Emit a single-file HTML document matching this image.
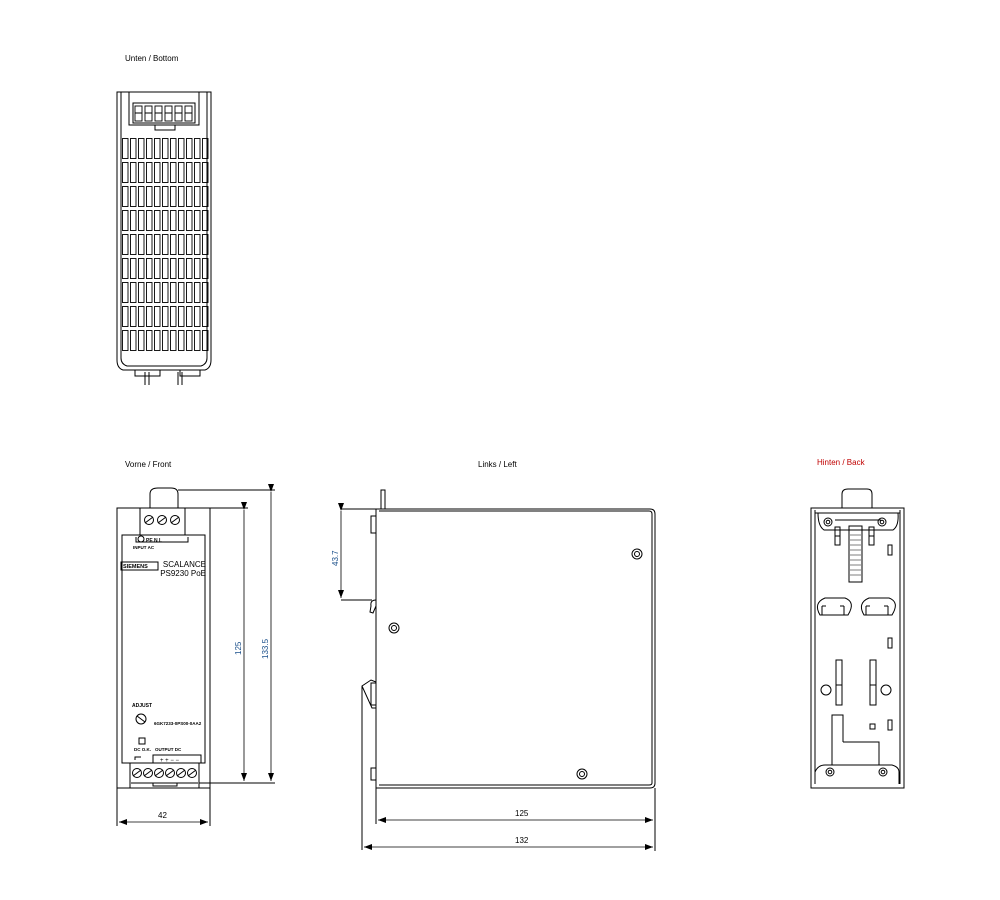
<!DOCTYPE html>
<html><head><meta charset="utf-8"><style>
html,body{margin:0;padding:0;background:#fff}
svg{display:block}
text{font-family:"Liberation Sans",sans-serif}
</style></head><body>
<svg width="1000" height="900" viewBox="0 0 1000 900" xmlns="http://www.w3.org/2000/svg">
<defs>
<pattern id="slots" x="122" y="138" width="8" height="24" patternUnits="userSpaceOnUse">
<rect x="0.5" y="0.5" width="5.5" height="20" fill="none" stroke="#000" stroke-width="0.9"/>
</pattern>
<marker id="ar" markerWidth="8" markerHeight="6" refX="8" refY="3" orient="auto" markerUnits="userSpaceOnUse"><path d="M0,0 L8,3 L0,6z" fill="#000"/></marker>
<marker id="al" markerWidth="8" markerHeight="6" refX="0" refY="3" orient="auto" markerUnits="userSpaceOnUse"><path d="M8,0 L0,3 L8,6z" fill="#000"/></marker>
</defs>
<g fill="none" stroke="#000" stroke-width="1">
<!-- TOP / bottom view -->
<text x="125" y="61" font-size="8" fill="#000" stroke="none">Unten / Bottom</text>
<path d="M117,92 H211 V360 Q211,368 205,370 H123 Q117,368 117,360 Z"/>
<path d="M121,92 V358 Q121,364 127,366 H201 Q207,364 207,358 V92"/>
<rect x="129" y="92" width="70" height="33"/>
<rect x="133" y="103" width="62" height="20"/>
<g stroke-width="0.9">
<rect x="135" y="106" width="7" height="15"/><rect x="145" y="106" width="7" height="15"/><rect x="155" y="106" width="7" height="15"/><rect x="165" y="106" width="7" height="15"/><rect x="175" y="106" width="7" height="15"/><rect x="185" y="106" width="7" height="15"/>
<path d="M135,113 H142 M145,113 H152 M155,113 H162 M165,113 H172 M175,113 H182 M185,113 H192"/>
</g>
<path d="M155,125 V130 H175 V125"/>
<rect x="122" y="138" width="88" height="216" fill="url(#slots)" stroke="none"/>
<path d="M135,370 V376 H160 V370 M180,370 V376 H200 V370 M145,372 V385 M149,372 V385 M178,372 V385 M182,372 V385"/>

<!-- FRONT -->
<text x="125" y="467" font-size="8" fill="#000" stroke="none">Vorne / Front</text>
<path d="M150,508 V494 Q150,488 158,488 H171 Q178,488 178,494 V508"/>
<rect x="117" y="508" width="93" height="280"/>
<rect x="122" y="535" width="83" height="228"/>
<rect x="140" y="508" width="45" height="27"/>
<circle cx="149" cy="520" r="4.5"/><circle cx="162" cy="520" r="4.5"/><circle cx="175" cy="520" r="4.5"/>
<path d="M145,523 L153,517 M158,523 L166,517 M171,523 L179,517"/>
<path d="M136,537 V542 H188 V537"/>
<circle cx="141" cy="539" r="3"/>
<text x="146" y="542" font-size="5" fill="#000" stroke="none" font-weight="bold">PE   N   L</text>
<text x="133" y="549" font-size="4.5" fill="#000" stroke="none" font-weight="bold">INPUT AC</text>
<rect x="121" y="562" width="37" height="8"/>
<text x="123" y="568" font-size="5.5" fill="#000" stroke="none" font-weight="bold">SIEMENS</text>
<text x="206" y="567" font-size="8" fill="#000" stroke="none" text-anchor="end">SCALANCE</text>
<text x="206" y="576" font-size="8" fill="#000" stroke="none" text-anchor="end">PS9230 PoE</text>
<text x="132" y="707" font-size="5" fill="#000" stroke="none" font-weight="bold">ADJUST</text>
<circle cx="141" cy="719" r="5"/><path d="M137,716 L145,722"/>
<text x="154" y="725" font-size="4.5" fill="#000" stroke="none" font-weight="bold">6GK7233-0PS00-0AA2</text>
<rect x="139" y="738" width="6" height="6"/>
<text x="134" y="751" font-size="4.5" fill="#000" stroke="none" font-weight="bold">DC O.K.</text>
<text x="155" y="751" font-size="4.5" fill="#000" stroke="none" font-weight="bold">OUTPUT DC</text>
<path d="M153,763 V755 H201 V763 M135,760 V757 H141"/>
<text x="160" y="762" font-size="6" fill="#000" stroke="none">+  +  −  −</text>
<rect x="130" y="763" width="69" height="25"/>
<g><circle cx="137" cy="773" r="4.5"/><circle cx="148" cy="773" r="4.5"/><circle cx="159" cy="773" r="4.5"/><circle cx="170" cy="773" r="4.5"/><circle cx="181" cy="773" r="4.5"/><circle cx="192" cy="773" r="4.5"/>
<path d="M133,776 L141,770 M144,776 L152,770 M155,776 L163,770 M166,776 L174,770 M177,776 L185,770 M188,776 L196,770"/></g>
<path d="M131,783 H198 M153,783 V786 H177 V783"/>
<!-- dims front -->
<path d="M210,508 H248 M178,490 H275 M199,783 H275"/>
<path d="M244,510 V781" marker-start="url(#ar)" marker-end="url(#ar)" stroke-width="0.8"/>
<path d="M271,492 V781" marker-start="url(#ar)" marker-end="url(#ar)" stroke-width="0.8"/>
<text x="0" y="0" font-size="8" fill="#1a4f8a" stroke="none" transform="translate(241,655) rotate(-90)">125</text>
<text x="0" y="0" font-size="8" fill="#1a4f8a" stroke="none" transform="translate(268,659) rotate(-90)">133.5</text>
<path d="M117,788 V826 M210,788 V826"/>
<path d="M119,822 H208" marker-start="url(#al)" marker-end="url(#ar)" stroke-width="0.8"/>
<text x="158" y="818" font-size="8" fill="#000" stroke="none">42</text>

<!-- LEFT -->
<text x="478" y="467" font-size="8" fill="#000" stroke="none">Links / Left</text>
<rect x="381" y="490" width="4" height="19"/>
<path d="M376,509 H650 Q655,509 655,514 V783 Q655,788 650,788 H376 Z"/>
<path d="M379,511 H649 Q652,511 652,514 V783 Q652,785 649,785 H379"/>
<path d="M376,509 V788"/>
<rect x="371" y="516" width="5" height="17"/>
<rect x="371" y="768" width="5" height="12"/>
<path d="M376,600 Q370,600 371,606 L370,612 L373,613 L376,606"/>
<path d="M376,682 L371,680 L362,686 L362,850 M362,686 L372,708 L376,708"/>
<rect x="371" y="683" width="5" height="22"/>
<path d="M341,509 H376 M341,600 H372"/>
<path d="M341,511 V598" marker-start="url(#ar)" marker-end="url(#ar)" stroke-width="0.8"/>
<text x="0" y="0" font-size="8" fill="#1a4f8a" stroke="none" transform="translate(338,566) rotate(-90)">43.7</text>
<circle cx="394" cy="628" r="5"/><circle cx="394" cy="628" r="2.5"/>
<circle cx="637" cy="554" r="5"/><circle cx="637" cy="554" r="2.5"/>
<circle cx="582" cy="774" r="5"/><circle cx="582" cy="774" r="2.5"/>
<path d="M376,788 V824 M655,788 V851"/>
<path d="M378,820 H653" marker-start="url(#al)" marker-end="url(#ar)" stroke-width="0.8"/>
<path d="M364,847 H653" marker-start="url(#al)" marker-end="url(#ar)" stroke-width="0.8"/>
<text x="515" y="816" font-size="8" fill="#000" stroke="none">125</text>
<text x="515" y="843" font-size="8" fill="#000" stroke="none">132</text>

<!-- BACK -->
<text x="817" y="465" font-size="8" fill="#c00000" stroke="none">Hinten / Back</text>
<path d="M842,508 V494 Q842,489 848,489 H867 Q872,489 872,494 V508"/>
<rect x="811" y="508" width="93" height="280"/>
<path d="M815,510 V784 M900,510 V784"/>
<path d="M815,513 H900 M818,513 Q818,526 824,530 H893 Q899,526 898,513"/>
<path d="M835,520 H881"/>
<circle cx="828" cy="522" r="4"/><circle cx="828" cy="522" r="1.8"/>
<circle cx="882" cy="522" r="4"/><circle cx="882" cy="522" r="1.8"/>
<rect x="835" y="527" width="5" height="18"/><rect x="869" y="527" width="5" height="18"/>
<path d="M835,536 H840 M869,536 H874"/>
<rect x="849" y="526" width="13" height="56"/>
<path d="M850,530 H861 M850,535 H861 M850,540 H861 M850,545 H861 M850,550 H861 M850,555 H861 M850,560 H861 M850,565 H861 M850,570 H861 M850,575 H861" stroke-width="0.6"/>
<rect x="888" y="545" width="4" height="10"/>
<path d="M820,615 Q813,603 825,598 H845 Q856,602 848,615 Z M822,606 V615 M844,606 V615 M822,606 H826 M840,606 H844"/>
<path d="M864,615 Q857,603 869,598 H889 Q900,602 892,615 Z M866,606 V615 M888,606 V615 M866,606 H870 M884,606 H888"/>
<rect x="888" y="638" width="4" height="10"/>
<rect x="836" y="660" width="6" height="45"/><rect x="870" y="660" width="6" height="45"/>
<path d="M836,685 H842 M870,685 H876"/>
<circle cx="826" cy="690" r="5"/><circle cx="886" cy="690" r="5"/>
<rect x="870" y="724" width="5" height="5"/>
<rect x="888" y="720" width="4" height="10"/>
<path d="M832,765 V715 H843 V742 M843,742 H879 V765"/>
<path d="M815,784 V772 Q818,765 825,765 H892 Q899,767 899,772 V784"/>
<circle cx="830" cy="772" r="4"/><circle cx="830" cy="772" r="1.8"/>
<circle cx="883" cy="772" r="4"/><circle cx="883" cy="772" r="1.8"/>
</g>
</svg>
</body></html>
